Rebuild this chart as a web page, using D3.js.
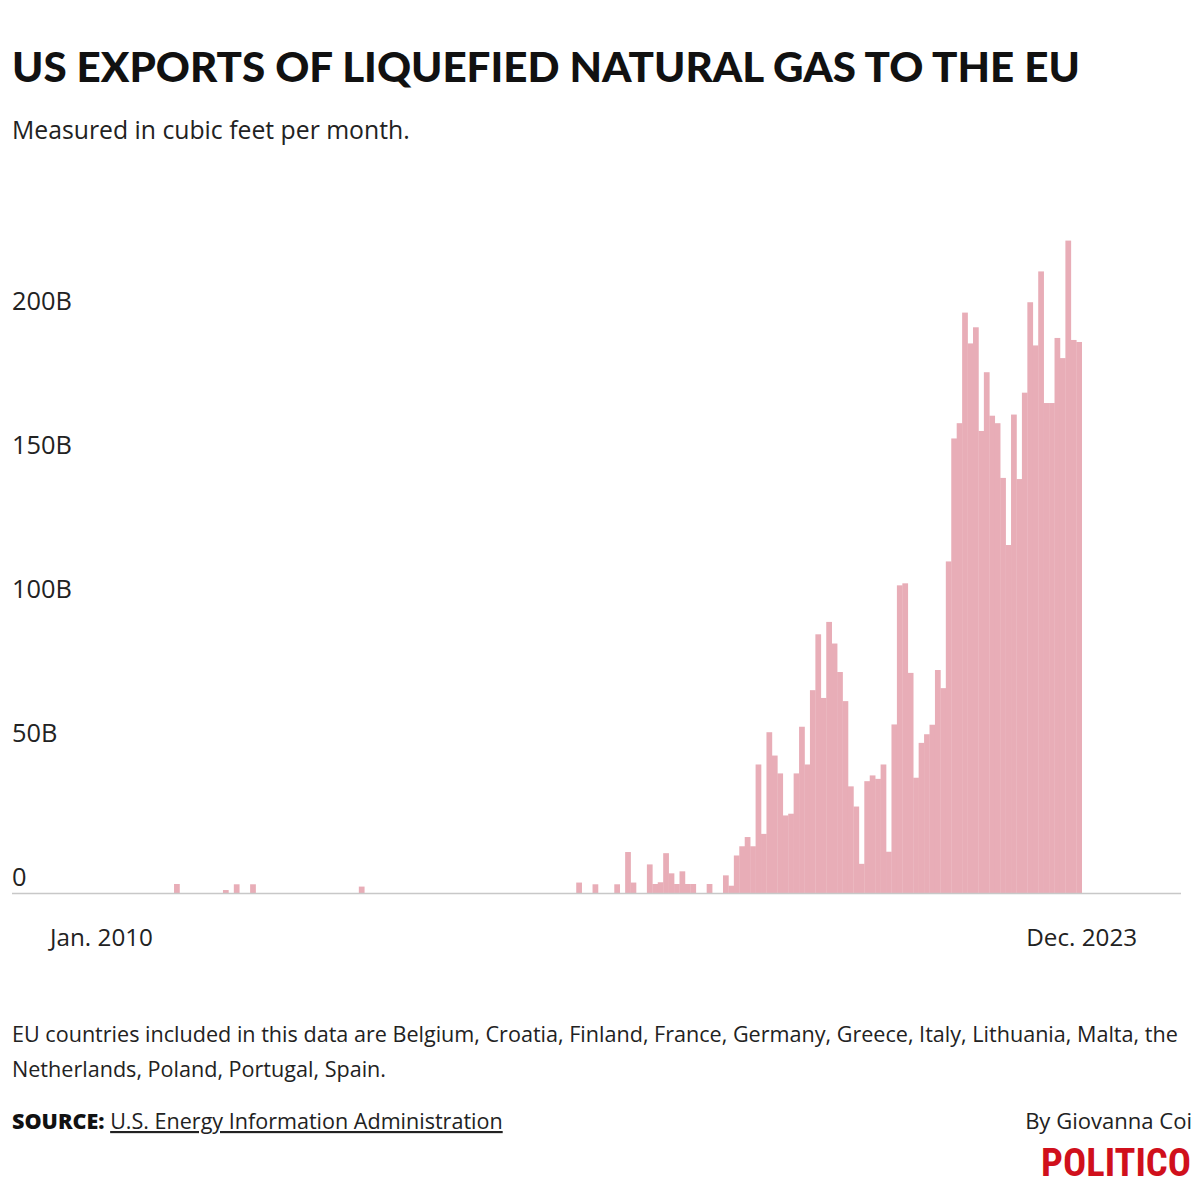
<!DOCTYPE html>
<html>
<head>
<meta charset="utf-8">
<script src="https://cdn.jsdelivr.net/npm/d3@7"></script>
<style>
  body { margin: 0; background: #fff; }
  svg { display: block; }
  text { font-family: "Open Sans", Lato, "Noto Sans", sans-serif; }
  .title { font-family: Lato, "Open Sans", sans-serif; }
  .logo { font-family: "Liberation Sans Narrow", "Roboto Condensed", Lato, sans-serif; }
</style>
</head>
<body>
<svg id="svg" width="1200" height="1200"></svg>
<script>
/* global d3 */

// monthly exports, billions of cubic feet, Jan 2010 .. Dec 2023
const months = d3.timeMonth.range(new Date(2010, 0, 1), new Date(2024, 0, 1));
const exportsB = [
  0, 3.3, 0, 0, 0, 0, 0, 0, 0, 0, 1.2, 0,           // 2010
  3.2, 0, 0, 3.2, 0, 0, 0, 0, 0, 0, 0, 0,           // 2011
  0, 0, 0, 0, 0, 0, 0, 0, 0, 0, 0, 2.4,             // 2012
  0, 0, 0, 0, 0, 0, 0, 0, 0, 0, 0, 0,               // 2013
  0, 0, 0, 0, 0, 0, 0, 0, 0, 0, 0, 0,               // 2014
  0, 0, 0, 0, 0, 0, 0, 0, 0, 0, 0, 0,               // 2015
  0, 0, 0, 3.8, 0, 0, 3.2, 0, 0, 0, 3.2, 0,         // 2016
  14.4, 3.8, 0, 0, 10.1, 3.3, 3.9, 14.0, 7.0, 3.3, 7.7, 3.3, // 2017
  3.3, 0, 0, 3.3, 0, 0, 6.3, 2.7, 13.2, 16.4, 19.6, 16.4,    // 2018
  44.8, 20.7, 56.0, 47.9, 41.7, 27.1, 27.7, 41.7, 57.9, 44.8, 70.6, 90.0, // 2019
  67.9, 94.3, 86.8, 76.9, 66.8, 37.2, 30.2, 10.3, 39.0, 41.0, 39.8, 44.8, // 2020
  14.5, 58.7, 107.0, 107.7, 76.6, 40.2, 52.3, 55.3, 58.6, 77.6, 71.3, 115.3, // 2021
  158.0, 163.3, 201.7, 191.0, 196.6, 160.6, 181.0, 165.9, 163.3, 144.3, 121.0, 166.3, // 2022
  143.9, 173.9, 205.3, 190.3, 216.0, 170.3, 170.3, 192.9, 185.9, 226.7, 192.2, 191.5  // 2023
];

const yTicks = [0, 50, 100, 150, 200];
const yTickLabels = ["0", "50B", "100B", "150B", "200B"];
const xTickLabels = ["Jan. 2010", "Dec. 2023"];
const notes = [
  "EU countries included in this data are Belgium, Croatia, Finland, France, Germany, Greece, Italy, Lithuania, Malta, the",
  "Netherlands, Poland, Portugal, Spain."
];

const data = months.map((m, i) => ({ month: m, value: exportsB[i] }));

const svg = d3.select("#svg");
const textColor = "#222";
const barColor = "#e8adb7";

const fitWidth = (sel, w) => {
  const cur = sel.node().getComputedTextLength();
  sel.attr("font-size", +sel.attr("font-size") * w / cur);
  return +sel.attr("font-size");
};

// header
const title = svg
  .append("text")
  .attr("class", "title")
  .attr("x", 12)
  .attr("y", 82)
  .attr("font-size", 44)
  .attr("font-weight", 900)
  .attr("fill", "#111")
  .text("US EXPORTS OF LIQUEFIED NATURAL GAS TO THE EU");
fitWidth(title, 1068);

const subtitle = svg
  .append("text")
  .attr("x", 12)
  .attr("y", 139)
  .attr("font-size", 22)
  .attr("fill", textColor)
  .text("Measured in cubic feet per month.");
fitWidth(subtitle, 398);

// scales
const x = d3
  .scaleBand()
  .domain(months)
  .range([168.6, 1081.7])
  .padding(0);

const y = d3
  .scaleLinear()
  .domain([0, 200])
  .range([893.5, 317.5]);

// bars
svg
  .append("g")
  .selectAll("rect")
  .data(data.filter(d => d.value > 0))
  .join("rect")
  .attr("x", d => x(d.month))
  .attr("width", x.bandwidth() + 0.3)
  .attr("y", d => y(d.value))
  .attr("height", d => y(0) - y(d.value))
  .attr("fill", barColor);

// baseline
svg
  .append("line")
  .attr("x1", 12)
  .attr("x2", 1181)
  .attr("y1", y(0))
  .attr("y2", y(0))
  .attr("stroke", "#c8c8c8")
  .attr("stroke-width", 1.5);

// y labels, sitting above their value
const yLabels = svg
  .append("g")
  .selectAll("text")
  .data(yTicks)
  .join("text")
  .attr("x", 12)
  .attr("y", d => y(d) - 7.5)
  .attr("font-size", 20)
  .attr("fill", textColor)
  .text((d, i) => yTickLabels[i]);
const ySize = fitWidth(d3.select(yLabels.nodes()[4]), 60);
yLabels.attr("font-size", ySize);

// x labels
const xLabels = svg
  .append("g")
  .selectAll("text")
  .data(xTickLabels)
  .join("text")
  .attr("x", (d, i) => (i === 0 ? 101.5 : x(months[months.length - 1]) + x.bandwidth()))
  .attr("y", 946)
  .attr("text-anchor", "middle")
  .attr("font-size", 21)
  .attr("fill", textColor)
  .text(d => d);
const xSize = fitWidth(d3.select(xLabels.nodes()[0]), 103);
xLabels.attr("font-size", xSize);

// notes
const noteLines = svg
  .append("g")
  .selectAll("text")
  .data(notes)
  .join("text")
  .attr("x", 12)
  .attr("y", (d, i) => 1042 + i * 35)
  .attr("font-size", 20)
  .attr("fill", textColor)
  .text(d => d);
const noteSize = fitWidth(d3.select(noteLines.nodes()[0]), 1166);
noteLines.attr("font-size", noteSize);

// source
const source = svg
  .append("text")
  .attr("x", 12)
  .attr("y", 1129)
  .attr("font-size", 20)
  .attr("fill", "#111");
source.append("tspan").attr("font-weight", 800).text("SOURCE: ");
source
  .append("tspan")
  .attr("text-decoration", "underline")
  .attr("fill", textColor)
  .text("U.S. Energy Information Administration");
fitWidth(source, 491);

const byline = svg
  .append("text")
  .attr("x", 1192)
  .attr("y", 1129)
  .attr("text-anchor", "end")
  .attr("font-size", 20)
  .attr("fill", textColor)
  .text("By Giovanna Coi");
fitWidth(byline, 167);

const logo = svg
  .append("text")
  .attr("class", "logo")
  .attr("x", 1191)
  .attr("y", 1176)
  .attr("text-anchor", "end")
  .attr("font-size", 38)
  .attr("font-weight", 700)
  .attr("fill", "#d0101c")
  .text("POLITICO");
fitWidth(logo, 150);
</script>
</body>
</html>
